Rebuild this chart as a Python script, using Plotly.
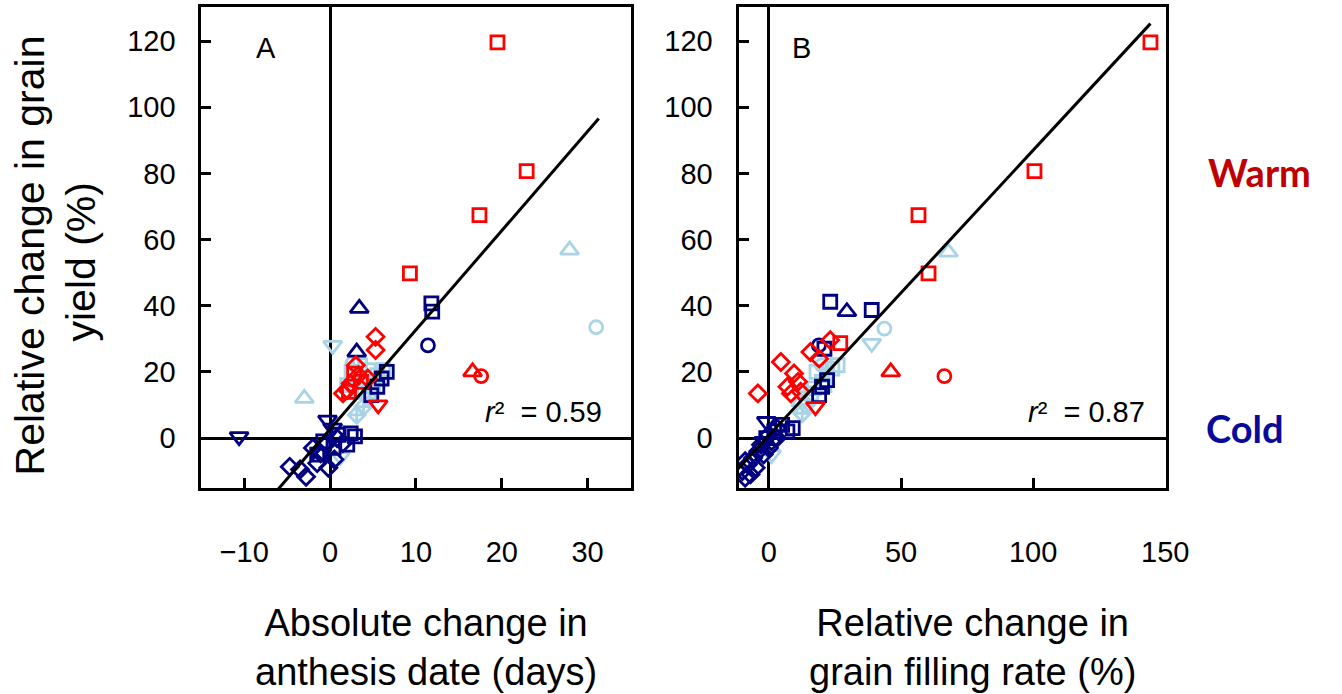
import plotly.graph_objects as go

# ---------------- data ----------------
RED = "#FF0000"
NAVY = "#000080"
LBLUE = "#A8D4E6"

# Panel A: absolute change in anthesis date (days) vs relative change in grain yield (%)
A_red_sq_x = [19.5, 22.9, 17.4, 9.3, 2.8, 3.6, 2.2]
A_red_sq_y = [119.6, 80.7, 67.4, 49.8, 19.5, 17.0, 14.0]
A_red_tri_x = [16.6]
A_red_tri_y = [20.0]
A_red_circ_x = [17.6]
A_red_circ_y = [18.7]
A_red_tdn_x = [5.6]
A_red_tdn_y = [10.0]
A_red_dia_x = [5.3, 5.3, 3.0, 3.3, 2.0, 2.4, 4.4, 1.5]
A_red_dia_y = [30.6, 26.6, 22.0, 19.0, 14.5, 16.5, 18.0, 13.5]

A_lb_tri_x = [27.9, -3.0]
A_lb_tri_y = [56.8, 12.0]
A_lb_circ_x = [31.0, 2.6]
A_lb_circ_y = [33.5, 22.5]
A_lb_tdn_x = [0.3, 1.2]
A_lb_tdn_y = [28.0, -5.6]
A_lb_sq_x = [2.5, 3.5, 4.5, 5.5, 6.2, 2.0, 3.0, 4.0, 5.0]
A_lb_sq_y = [20.0, 22.0, 20.5, 19.0, 20.6, 16.0, 15.0, 14.0, 16.5]
A_lb_dia_x = [3.1, 3.9, 4.5]
A_lb_dia_y = [7.0, 9.5, 12.0]

A_nv_tri_x = [3.4, 3.1]
A_nv_tri_y = [39.2, 26.0]
A_nv_sq_x = [11.8, 11.9, 6.0, 6.6, 5.5, 2.4, 2.9, 0.4, -0.8, 1.0, -1.5, 2.0, 4.8]
A_nv_sq_y = [40.7, 38.2, 18.0, 20.0, 15.5, 1.4, 0.5, -3.0, -1.0, 1.0, -5.0, -2.0, 13.0]
A_nv_circ_x = [11.4]
A_nv_circ_y = [28.0]
A_nv_tdn_x = [-10.6, -0.3, 0.3]
A_nv_tdn_y = [0.4, 5.4, 3.0]
A_nv_dia_x = [-4.7, -2.8, -1.5, -1.1, -0.5, -2.0, 0.5, -3.5, 1.5, -0.2, 0.8]
A_nv_dia_y = [-8.7, -11.7, -7.6, -4.6, -2.0, -3.0, -6.5, -9.5, -1.5, -9.0, 0.0]

# Panel B: relative change in grain filling rate (%) vs relative change in grain yield (%)
B_red_sq_x = [144.4, 100.5, 56.6, 60.4, 27.0]
B_red_sq_y = [119.6, 80.7, 67.4, 49.8, 28.7]
B_red_tri_x = [46.1]
B_red_tri_y = [20.0]
B_red_circ_x = [66.4]
B_red_circ_y = [18.7]
B_red_tdn_x = [17.6]
B_red_tdn_y = [9.5]
B_red_dia_x = [4.5, -4.2, 9.5, 8.3, 15.7, 23.2, 11.0, 19.0, 7.0, 12.0]
B_red_dia_y = [23.0, 13.5, 19.5, 13.5, 26.0, 29.6, 17.0, 24.0, 15.5, 14.0]

B_lb_tri_x = [67.9, 12.0]
B_lb_tri_y = [56.2, 11.0]
B_lb_circ_x = [43.7, 20.0]
B_lb_circ_y = [33.1, 22.0]
B_lb_tdn_x = [38.9, 1.0]
B_lb_tdn_y = [28.6, -5.0]
B_lb_sq_x = [14.0, 17.0, 20.0, 22.0, 24.0, 26.0, 18.0, 16.0, 21.0]
B_lb_sq_y = [12.0, 15.0, 17.0, 19.0, 21.0, 22.0, 20.0, 13.5, 16.0]
B_lb_dia_x = [12.6, 14.0]
B_lb_dia_y = [7.5, 10.0]

B_nv_tri_x = [29.5]
B_nv_tri_y = [38.2]
B_nv_sq_x = [23.2, 38.9, 20.1, 19.0, 22.0, 21.0, 2.0, 5.0, 7.0, 9.0, -1.0]
B_nv_sq_y = [41.2, 38.7, 15.5, 13.0, 17.5, 27.0, 2.0, 4.0, 2.0, 3.0, 0.0]
B_nv_circ_x = [18.9]
B_nv_circ_y = [28.0]
B_nv_tdn_x = [-1.0, -2.0]
B_nv_tdn_y = [5.0, -1.0]
B_nv_dia_x = [-10.0, -9.0, -8.0, -6.0, -5.0, -4.0, -3.0, -2.0, 0.0, 1.0, 3.0, -7.0, -9.0, 0.0, 3.0]
B_nv_dia_y = [-10.0, -12.0, -8.0, -6.0, -9.0, -4.0, -2.0, -5.0, 1.0, -1.0, 3.0, -11.0, -7.0, -3.0, 0.0]

# regression lines
fitA_slope, fitA_icpt = 3.0, 2.7
fitA_x = [-7.0, 31.3]
fitB_slope, fitB_icpt = 0.862, 0.8
fitB_x = [-12.0, 144.4]

r2_labels = ["0.59", "0.87"]
panel_labels = ["A", "B"]
xticks_A = [-10, 0, 10, 20, 30]
xticks_B = [0, 50, 100, 150]
yticks = [0, 20, 40, 60, 80, 100, 120]

# ---------------- figure ----------------
W, H = 1342, 694
FONT = "Liberation Sans, Arial, sans-serif"

fig = go.Figure()

def add(xs, ys, color, symbol, xa, ya, size=13):
    fig.add_trace(go.Scatter(
        x=xs, y=ys, mode="markers", xaxis=xa, yaxis=ya, showlegend=False,
        marker=dict(symbol=symbol, size=size, color=color,
                    line=dict(color=color, width=2.8)),
        hoverinfo="skip"))

groups_A = [
    (A_lb_sq_x, A_lb_sq_y, LBLUE, "square-open", 13),
    (A_lb_dia_x, A_lb_dia_y, LBLUE, "diamond-cross-open", 13),
    (A_lb_tri_x, A_lb_tri_y, LBLUE, "triangle-up-open", 16),
    (A_lb_tdn_x, A_lb_tdn_y, LBLUE, "triangle-down-open", 16),
    (A_lb_circ_x, A_lb_circ_y, LBLUE, "circle-open", 13),
    (A_nv_sq_x, A_nv_sq_y, NAVY, "square-open", 13),
    (A_nv_dia_x, A_nv_dia_y, NAVY, "diamond-open", 13),
    (A_nv_tri_x, A_nv_tri_y, NAVY, "triangle-up-open", 16),
    (A_nv_tdn_x, A_nv_tdn_y, NAVY, "triangle-down-open", 16),
    (A_nv_circ_x, A_nv_circ_y, NAVY, "circle-open", 13),
    (A_red_sq_x, A_red_sq_y, RED, "square-open", 13),
    (A_red_dia_x, A_red_dia_y, RED, "diamond-open", 13),
    (A_red_tri_x, A_red_tri_y, RED, "triangle-up-open", 16),
    (A_red_tdn_x, A_red_tdn_y, RED, "triangle-down-open", 16),
    (A_red_circ_x, A_red_circ_y, RED, "circle-open", 13),
]
groups_B = [
    (B_lb_sq_x, B_lb_sq_y, LBLUE, "square-open", 13),
    (B_lb_dia_x, B_lb_dia_y, LBLUE, "diamond-cross-open", 13),
    (B_lb_tri_x, B_lb_tri_y, LBLUE, "triangle-up-open", 16),
    (B_lb_tdn_x, B_lb_tdn_y, LBLUE, "triangle-down-open", 16),
    (B_lb_circ_x, B_lb_circ_y, LBLUE, "circle-open", 13),
    (B_nv_sq_x, B_nv_sq_y, NAVY, "square-open", 13),
    (B_nv_dia_x, B_nv_dia_y, NAVY, "diamond-open", 13),
    (B_nv_tri_x, B_nv_tri_y, NAVY, "triangle-up-open", 16),
    (B_nv_tdn_x, B_nv_tdn_y, NAVY, "triangle-down-open", 16),
    (B_nv_circ_x, B_nv_circ_y, NAVY, "circle-open", 13),
    (B_red_sq_x, B_red_sq_y, RED, "square-open", 13),
    (B_red_dia_x, B_red_dia_y, RED, "diamond-open", 13),
    (B_red_tri_x, B_red_tri_y, RED, "triangle-up-open", 16),
    (B_red_tdn_x, B_red_tdn_y, RED, "triangle-down-open", 16),
    (B_red_circ_x, B_red_circ_y, RED, "circle-open", 13),
]
for xs, ys, c, s, sz in groups_A:
    add(xs, ys, c, s, "x", "y", sz)
for xs, ys, c, s, sz in groups_B:
    add(xs, ys, c, s, "x2", "y2", sz)

fig.add_trace(go.Scatter(x=fitA_x, y=[fitA_slope * v + fitA_icpt for v in fitA_x],
                         mode="lines", line=dict(color="black", width=3),
                         xaxis="x", yaxis="y", showlegend=False, hoverinfo="skip"))
fig.add_trace(go.Scatter(x=fitB_x, y=[fitB_slope * v + fitB_icpt for v in fitB_x],
                         mode="lines", line=dict(color="black", width=3),
                         xaxis="x2", yaxis="y2", showlegend=False, hoverinfo="skip"))

def px(x):
    return x / W

def py(y):
    return 1 - y / H

ydom = [py(488), py(7)]
axis_common = dict(showline=True, linecolor="black", linewidth=3, mirror=True,
                   ticks="inside", ticklen=10, tickwidth=3, tickcolor="black",
                   showgrid=False, zeroline=True, zerolinecolor="black", zerolinewidth=2.5,
                   tickfont=dict(family=FONT, size=29, color="black"))

fig.update_layout(
    width=W, height=H, autosize=False,
    margin=dict(l=0, r=0, t=0, b=0),
    paper_bgcolor="white", plot_bgcolor="white",
    xaxis=dict(domain=[px(205), px(642)], range=[-15, 35], anchor="y",
               tickvals=xticks_A, ticklabelstandoff=36, **axis_common),
    yaxis=dict(domain=ydom, range=[-15.1, 130.3], anchor="x",
               tickvals=yticks, ticklabelstandoff=17, **axis_common),
    xaxis2=dict(domain=[px(752), px(1187)], range=[-11.5, 150.2], anchor="y2",
                tickvals=xticks_B, ticklabelstandoff=36, **axis_common),
    yaxis2=dict(domain=ydom, range=[-15.1, 130.3], anchor="x2",
                tickvals=yticks, ticklabelstandoff=17, **axis_common),
)

ann = []
ann.append(dict(x=px(271), y=py(48), text=panel_labels[0]))
ann.append(dict(x=px(816), y=py(48), text=panel_labels[1]))
for a in ann:
    a.update(xref="paper", yref="paper", showarrow=False, xanchor="center", yanchor="middle",
             font=dict(family=FONT, size=29, color="black"))
r2 = [
    dict(x=px(553), y=py(412), text="<i>r</i>²\u00a0\u00a0=\u00a0" + r2_labels[0]),
    dict(x=px(1106), y=py(412), text="<i>r</i>²\u00a0\u00a0=\u00a0" + r2_labels[1]),
]
for a in r2:
    a.update(xref="paper", yref="paper", showarrow=False, xanchor="center", yanchor="middle",
             font=dict(family=FONT, size=29, color="black"))
ann += r2
ann.append(dict(x=px(434), y=py(647), xref="paper", yref="paper", showarrow=False,
                text="Absolute change in<br>anthesis date (days)",
                font=dict(family=FONT, size=38, color="black"),
                xanchor="center", yanchor="middle"))
ann.append(dict(x=px(990), y=py(647), xref="paper", yref="paper", showarrow=False,
                text="Relative change in<br>grain filling rate (%)",
                font=dict(family=FONT, size=38, color="black"),
                xanchor="center", yanchor="middle"))
ann.append(dict(x=px(31), y=py(255), xref="paper", yref="paper", showarrow=False,
                text="Relative change in grain", textangle=-90,
                font=dict(family=FONT, size=41, color="black"),
                xanchor="center", yanchor="middle"))
ann.append(dict(x=px(82), y=py(262), xref="paper", yref="paper", showarrow=False,
                text="yield (%)", textangle=-90,
                font=dict(family=FONT, size=41, color="black"),
                xanchor="center", yanchor="middle"))
ann.append(dict(x=px(1282), y=py(172), xref="paper", yref="paper", showarrow=False,
                text="<b>Warm</b>", font=dict(family="Lato, Carlito, sans-serif", size=38, color="#C00000"),
                xanchor="center", yanchor="middle"))
ann.append(dict(x=px(1268), y=py(428), xref="paper", yref="paper", showarrow=False,
                text="<b>Cold</b>", font=dict(family="Lato, Carlito, sans-serif", size=38, color="#0A0A99"),
                xanchor="center", yanchor="middle"))
fig.update_layout(annotations=ann)

fig.write_html("out.html")
